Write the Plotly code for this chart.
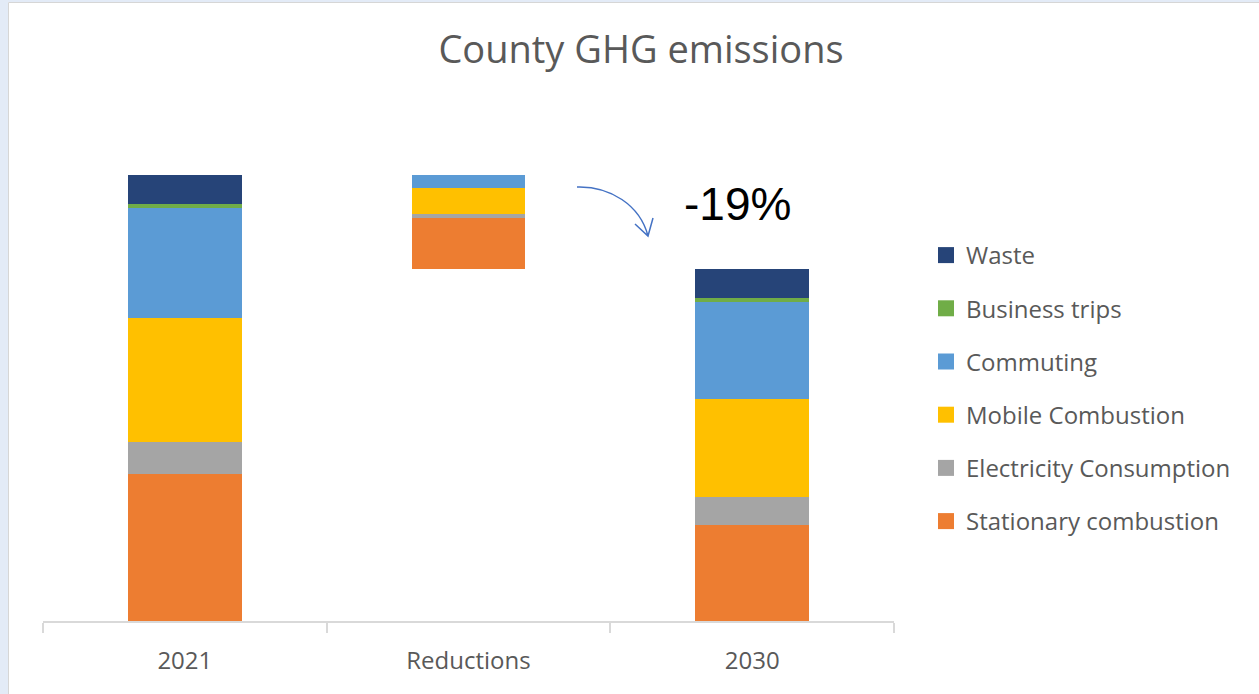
import plotly.graph_objects as go

# County GHG emissions, stacked by source (same units throughout)
categories = ["2021", "Reductions", "2030"]
stationary_combustion = [147, 51, 96]
electricity_consumption = [32, 4, 28]
mobile_combustion = [124, 26, 98]
commuting = [110, 13, 97]
business_trips = [4, 0, 4]
waste = [29, 0, 29]
change_label = "-19%"

series = [
    ("Stationary combustion", stationary_combustion, "#ED7D31"),
    ("Electricity Consumption", electricity_consumption, "#A5A5A5"),
    ("Mobile Combustion", mobile_combustion, "#FFC000"),
    ("Commuting", commuting, "#5B9BD5"),
    ("Business trips", business_trips, "#70AD47"),
    ("Waste", waste, "#264478"),
]

W, H = 1259, 694
ML, MR, MT, MB = 43, 365, 100, 73
PW, PH = W - ML - MR, H - MT - MB

GREY_TEXT = "#595959"
FONT = "Open Sans"

fig = go.Figure()

# invisible spacer that lifts the reductions bar up to the 2030 total
total_2030 = sum(s[1][2] for s in series)
fig.add_trace(go.Bar(
    x=categories, y=[0, total_2030, 0], width=0.4,
    marker=dict(color="rgba(0,0,0,0)", line=dict(width=0)),
    showlegend=False, hoverinfo="skip",
))

for name, vals, color in series:
    fig.add_trace(go.Bar(
        x=categories, y=vals, name=name, width=0.4,
        marker=dict(color=color, line=dict(width=0)),
        showlegend=False,
    ))

# legend entries (top to bottom: Waste ... Stationary combustion)
for name, vals, color in reversed(series):
    fig.add_trace(go.Scatter(
        x=[None], y=[None], mode="markers", name=name,
        legendgroup=name,
        marker=dict(symbol="square", size=16, color=color, line=dict(width=0)),
    ))


def px_to_paper(px, py):
    return (px - ML) / PW, (H - MB - py) / PH


# curved arrow pointing from the reductions towards the 2030 bar
p0 = px_to_paper(577, 187)
c1 = px_to_paper(610, 186)
c2 = px_to_paper(640, 205)
p3 = px_to_paper(648, 236)
a1 = px_to_paper(635, 224)
a2 = px_to_paper(653, 218)
arrow_path = (
    f"M {p0[0]},{p0[1]} C {c1[0]},{c1[1]} {c2[0]},{c2[1]} {p3[0]},{p3[1]} "
    f"M {a1[0]},{a1[1]} L {p3[0]},{p3[1]} L {a2[0]},{a2[1]}"
)

# window frame strips along the left and top edges
fl0 = px_to_paper(0, 0)
fl1 = px_to_paper(8, H)
ft1 = px_to_paper(W, 2)
shapes = [
    dict(type="rect", xref="paper", yref="paper",
         x0=fl0[0], x1=fl1[0], y0=fl1[1], y1=fl0[1],
         fillcolor="#E3EBF7", line=dict(width=0), layer="above"),
    dict(type="rect", xref="paper", yref="paper",
         x0=fl0[0], x1=ft1[0], y0=ft1[1], y1=fl0[1],
         fillcolor="#E3EBF7", line=dict(width=0), layer="above"),
    dict(type="line", xref="paper", yref="paper",
         x0=px_to_paper(8.5, 0)[0], x1=px_to_paper(8.5, 0)[0],
         y0=px_to_paper(0, 2.5)[1], y1=px_to_paper(0, H)[1],
         line=dict(color="#D6D6D6", width=1), layer="above"),
    dict(type="line", xref="paper", yref="paper",
         x0=px_to_paper(8.5, 0)[0], x1=px_to_paper(W, 0)[0],
         y0=px_to_paper(0, 2.5)[1], y1=px_to_paper(0, 2.5)[1],
         line=dict(color="#D6D6D6", width=1), layer="above"),
    dict(type="path", xref="paper", yref="paper", path=arrow_path,
         line=dict(color="#4472C4", width=1.5), layer="above"),
]

lbl = px_to_paper(737, 204)
fig.update_layout(
    width=W, height=H,
    margin=dict(l=ML, r=MR, t=MT, b=MB, pad=0),
    paper_bgcolor="white", plot_bgcolor="white",
    barmode="stack",
    title=dict(text="County GHG emissions", xref="container", yref="container",
               x=641 / W, y=1 - 50 / H, xanchor="center", yanchor="middle",
               font=dict(family=FONT, size=38, color=GREY_TEXT)),
    xaxis=dict(
        type="category", range=[-0.5, 2.5],
        showline=True, linecolor="#D9D9D9", linewidth=1.5,
        ticks="outside", tickson="boundaries", ticklen=10,
        tickcolor="#D9D9D9", tickwidth=1.5,
        showgrid=False, zeroline=False,
        tickfont=dict(family=FONT, size=24, color=GREY_TEXT),
        ticklabelstandoff=17,
    ),
    yaxis=dict(range=[0, PH], visible=False, showgrid=False, zeroline=False),
    legend=dict(
        xref="container", yref="container",
        x=926 / W, y=1 - 233 / H, xanchor="left", yanchor="top",
        traceorder="grouped", tracegroupgap=19,
        font=dict(family=FONT, size=24, color=GREY_TEXT),
        bgcolor="rgba(0,0,0,0)", itemclick=False,
    ),
    annotations=[dict(
        text=change_label, xref="paper", yref="paper",
        x=lbl[0], y=lbl[1], xanchor="center", yanchor="middle",
        showarrow=False,
        font=dict(family="Liberation Sans", size=46, color="#000000"),
    )],
    shapes=shapes,
)

fig.write_html("out.html")
